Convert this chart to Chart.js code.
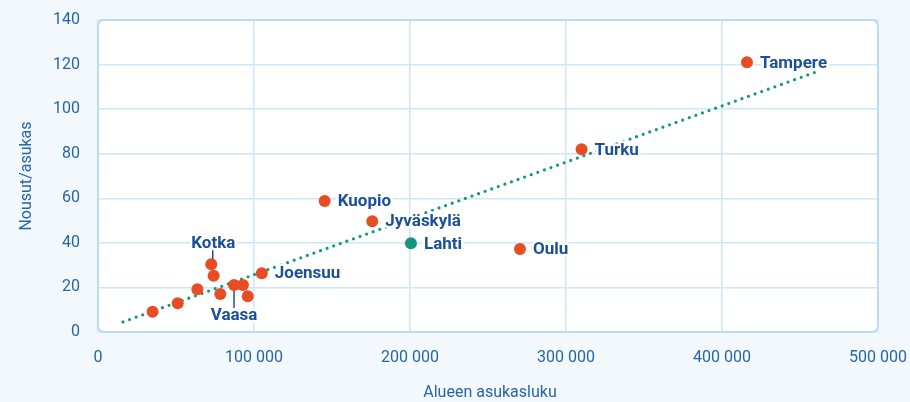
<!DOCTYPE html>
<html><head><meta charset="utf-8">
<script src="https://cdn.jsdelivr.net/npm/chart.js@4"></script>
<style>html,body{margin:0;padding:0;background:#f3f8fc;}canvas{display:block;}</style>
</head><body>
<canvas id="c" width="910" height="402"></canvas>
<script>
const cityNames = ['Tampere','Turku','Kuopio','Jyväskylä','Lahti','Oulu','Joensuu','Kotka','','','','','','Vaasa','',''];
const population = [416000,310000,145300,175800,200600,270500,105000,72600,74100,35000,51100,63700,78400,87200,92900,96000];
const boardings = [121,82,58.8,49.7,39.8,37.2,26.4,30.4,25.2,9.1,12.9,19.2,17.0,21.1,21.1,16.0];
const labelSide = ['right','right','right','right','right','right','right','above','','','','','','below','',''];
const highlighted = ['Lahti'];
const trendX = [16000, 461500];
const trendY = [4.5, 117];
const xTicks = [0,100000,200000,300000,400000,500000];
const xTickLabels = ['0','100 000','200 000','300 000','400 000','500 000'];
const yTicks = [0,20,40,60,80,100,120,140];
const yTickLabels = ['0','20','40','60','80','100','120','140'];
const xTitle = 'Alueen asukasluku';
const yTitle = 'Nousut/asukas';

const ORANGE = '#e84c25', GREEN = '#12987a', TEXT = '#1a4f9c', TICK = '#2565aa';

const points = population.map((x,i)=>({x:x,y:boardings[i]}));
const colors = cityNames.map(n => highlighted.includes(n) ? GREEN : ORANGE);

function rr(ctx,x,y,w,h,r){ctx.beginPath();ctx.moveTo(x+r,y);ctx.lineTo(x+w-r,y);ctx.arcTo(x+w,y,x+w,y+r,r);ctx.lineTo(x+w,y+h-r);ctx.arcTo(x+w,y+h,x+w-r,y+h,r);ctx.lineTo(x+r,y+h);ctx.arcTo(x,y+h,x,y+h-r,r);ctx.lineTo(x,y+r);ctx.arcTo(x,y,x+r,y,r);ctx.closePath();}

const deco = {
  id:'deco',
  beforeDraw(chart){
    const ctx=chart.ctx, a=chart.chartArea;
    ctx.save();
    ctx.fillStyle='#f3f8fc';ctx.fillRect(0,0,chart.width,chart.height);
    rr(ctx,a.left,a.top,a.right-a.left,a.bottom-a.top,6);
    ctx.fillStyle='#ffffff';ctx.fill();
    ctx.restore();
  },
  beforeDatasetsDraw(chart){
    const ctx=chart.ctx, a=chart.chartArea, xs=chart.scales.x, ys=chart.scales.y;
    ctx.save();
    rr(ctx,a.left,a.top,a.right-a.left,a.bottom-a.top,6);
    ctx.strokeStyle='#b8dcf4';ctx.lineWidth=2;ctx.stroke();
    ctx.strokeStyle=TEXT;ctx.lineWidth=1.5;
    cityNames.forEach((n,i)=>{
      const px=xs.getPixelForValue(population[i]), py=ys.getPixelForValue(boardings[i]);
      if(labelSide[i]==='above'){ctx.beginPath();ctx.moveTo(px+1.5,py-14);ctx.lineTo(px+1.5,py+6);ctx.stroke();}
      if(labelSide[i]==='below'){ctx.beginPath();ctx.moveTo(px,py+2);ctx.lineTo(px,py+23);ctx.stroke();}
    });
    ctx.restore();
  },
  afterDatasetsDraw(chart){
    const ctx=chart.ctx, xs=chart.scales.x, ys=chart.scales.y;
    ctx.save();
    ctx.font='bold 17px Roboto';
    ctx.textBaseline='middle';
    ctx.lineJoin='round';
    cityNames.forEach((n,i)=>{
      if(!n) return;
      const px=xs.getPixelForValue(population[i]), py=ys.getPixelForValue(boardings[i]);
      let tx=px+13, ty=py+1, align='left';
      if(labelSide[i]==='above'){tx=px+2;ty=py-21;align='center';}
      if(labelSide[i]==='below'){tx=px;ty=py+31;align='center';}
      ctx.textAlign=align;
      ctx.strokeStyle='#ffffff';ctx.lineWidth=5;ctx.strokeText(n,tx,ty);
      ctx.fillStyle=TEXT;ctx.fillText(n,tx,ty);
    });
    ctx.restore();
  },
  afterDraw(chart){
    const ctx=chart.ctx, a=chart.chartArea;
    ctx.save();
    ctx.fillStyle=TICK;ctx.font='16px Roboto';
    ctx.textAlign='center';ctx.textBaseline='middle';
    ctx.fillText(xTitle,(a.left+a.right)/2+2,393);
    ctx.translate(27,(a.top+a.bottom)/2);ctx.rotate(-Math.PI/2);
    ctx.fillText(yTitle,0,0);
    ctx.restore();
  }
};

new Chart(document.getElementById('c'),{
  data:{datasets:[
    {type:'scatter',data:points,pointBackgroundColor:colors,pointBorderWidth:0,pointRadius:6,order:1},
    {type:'line',data:trendX.map((x,i)=>({x:x,y:trendY[i]})),borderColor:GREEN,borderWidth:3.2,borderDash:[0,7],borderCapStyle:'round',pointRadius:0,fill:false,order:2}
  ]},
  options:{
    responsive:false,animation:false,
    layout:{padding:{left:0,top:20,right:32,bottom:0}},
    plugins:{legend:{display:false},tooltip:{enabled:false}},
    scales:{
      x:{type:'linear',min:0,max:500000,
        afterBuildTicks(s){s.ticks=xTicks.map(v=>({value:v}));},
        afterFit(s){s.height=70;s.paddingLeft=0;s.paddingRight=0;},
        ticks:{padding:16,color:TICK,font:{family:'Roboto',size:16},maxRotation:0,autoSkip:false,
          callback:(v)=>xTickLabels[xTicks.indexOf(v)]},
        grid:{color:'#cde6f8',lineWidth:1.5,drawTicks:false},border:{display:false}},
      y:{type:'linear',min:0,max:140,
        afterBuildTicks(s){s.ticks=yTicks.map(v=>({value:v}));},
        afterFit(s){s.width=98;s.paddingTop=0;s.paddingBottom=0;},
        ticks:{padding:18,color:TICK,font:{family:'Roboto',size:16},
          callback:(v)=>yTickLabels[yTicks.indexOf(v)]},
        grid:{color:'#cde6f8',lineWidth:1.5,drawTicks:false},border:{display:false}}
    }
  },
  plugins:[deco]
});
</script>
</body></html>
